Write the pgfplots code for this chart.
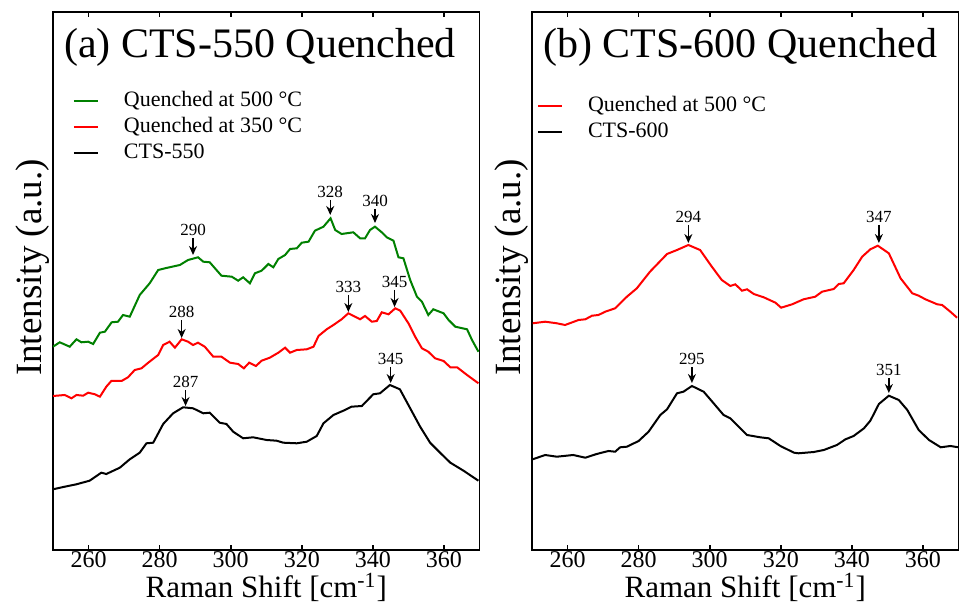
\documentclass[border=0pt]{standalone}
\usepackage{fontspec}
\setmainfont{Liberation Serif}
\usepackage{pgfplots}
\pgfplotsset{compat=1.18}
\usetikzlibrary{arrows.meta}
\definecolor{qgreen}{RGB}{0,128,0}
\definecolor{qred}{RGB}{255,0,0}

\newcommand{\peak}[4]{\draw[-{Stealth[length=4.5pt,width=4pt]}, line width=0.7pt] (axis cs:#1,#2) -- (axis cs:#1,#3) node[pos=0, above, inner sep=1pt, font=\fontsize{8.5}{10}\selectfont] {#4};}

\pgfplotsset{
 ramanbase/.style={
  scale only axis, width=213.25pt, height=269pt,
  xmin=250, xmax=370, ymin=0, ymax=538,
  xtick={260,280,...,360}, ytick=\empty,
  tick align=inside, major tick length=2.6pt,
  xtick pos=both,
  axis line style={line width=0.8pt},
  every tick/.style={line width=0.8pt, black},
  /pgf/number format/assume math mode=true,
  ticklabel style={font=\fontsize{12}{14}\selectfont, inner sep=1.5pt},
  xticklabel style={yshift=1pt},
  xlabel={Raman Shift [cm\textsuperscript{-1}]},
  ylabel={Intensity (a.u.)},
  xlabel style={font=\fontsize{15.5}{18}\selectfont, at={(axis description cs:0.5,-0.0892)}, anchor=base, inner sep=0pt},
  ylabel style={font=\fontsize{18.5}{21}\selectfont, at={(axis description cs:-0.026,0.525)}, anchor=base, inner sep=1pt},
  legend cell align=left,
  legend image code/.code={\draw[#1] (0pt,0pt) -- (12pt,0pt);},
  legend style={draw=none, fill=none, inner sep=0pt, outer sep=0pt,
    font=\fontsize{11}{13}\selectfont,
    nodes={inner sep=0pt, text height=8pt, text depth=2.5pt},
    row sep=2.5pt,
    /tikz/every odd column/.append style={column sep=12.5pt}},
 },
}

\begin{document}
\begin{tikzpicture}
\useasboundingbox (-26.5pt,-27.5pt) rectangle (453.5pt,275pt);
\begin{axis}[ramanbase, at={(0,0)}, anchor=south west,
  legend style={at={(0,1)}, anchor=north west, xshift=10pt, yshift=-39.5pt}]
\addplot[color=qgreen, line width=1pt] coordinates {
(250,203.3)(251.9,207.7)(254.7,203.3)(256.6,210.7)(258,207.7)(259.9,208.3)(261.3,206)(263.2,217.3)(264.6,218.3)(266.5,227.7)(268.3,228.3)(269.7,235)(271.6,233.3)(274.4,255)(277.2,266.7)(279.6,280)(281.5,281.7)(285.7,285)(288,290)(290.8,292.7)(292.3,288.3)(294.1,287.7)(297.4,274.3)(300.3,273.3)(302.1,269.3)(303.5,272.7)(305.4,266.7)(306.8,276.7)(308.7,279.3)(310.6,286)(312,282.7)(313.4,291)(315.3,295)(316.7,301)(318.6,301.7)(320,307.3)(321.9,308.3)(323.7,319.3)(326.1,323.3)(328.1,331.7)(329.4,320)(331.2,316)(334.5,317.7)(336.4,311.7)(337.8,311.7)(339.2,320)(340.6,323.3)(342.5,317.7)(343.9,312.7)(345.8,309.3)(347.2,292.7)(348.6,291.7)(350.5,270)(352.4,253.3)(353.8,248.3)(355.6,235)(357,240.7)(359.9,236.7)(361.3,230)(363.2,223.3)(366.5,220.7)(367.9,210)(369.7,198.3)
};
\addlegendentry{Quenched at 500 °C}
\addplot[color=qred, line width=1pt] coordinates {
(250,154)(253.3,155)(255.2,151.7)(256.6,155)(258.5,154.3)(259.9,157.3)(261.8,155.7)(263.2,153.3)(265,163.3)(266.4,169)(269.3,169)(271.1,172.7)(273,180)(274.9,181.7)(276.8,187.3)(278.6,192.3)(279.6,195)(281,205)(282.8,208.3)(284.3,202.3)(286.2,210.7)(288,208.3)(289.4,205)(290.8,207.3)(292.7,203.3)(295.1,193.3)(297.4,193.3)(299.8,187.3)(302.1,186)(303.7,181.7)(305.2,187.3)(307.1,184)(308.7,189.3)(311,192.3)(313.4,197.3)(315.3,202.3)(316.7,197.3)(318.6,200)(321.4,200.7)(323.3,203.3)(324.7,214)(327,220.7)(328.9,225)(331.2,230.7)(333.1,236.7)(335,233.3)(336.4,230.7)(337.8,234)(339.7,228.3)(341.1,229)(342.5,237.7)(344.4,235.7)(346.3,241.7)(347.7,239.3)(350,226.7)(351.9,213.3)(353.8,201.7)(355.6,198.3)(357.5,191.7)(359.9,189)(361.8,182.7)(363.7,182.7)(366.5,175)(369.7,166.7)
};
\addlegendentry{Quenched at 350 °C}
\addplot[color=black, line width=1pt] coordinates {
(250,60.7)(253.3,63.3)(256.6,65.7)(260.3,69.3)(263.6,77.3)(265,76)(268.8,82.3)(271.6,90.7)(274.4,97.3)(276.3,106.7)(278.2,107.3)(281,126)(283.8,136.7)(286.6,142.7)(289.4,141.7)(292.3,136.7)(294.1,137.3)(296.9,127.3)(298.8,126)(300.7,118.3)(303.5,111.7)(306.3,112.7)(310.1,110)(312.9,109.3)(314.8,107.3)(318.6,106.7)(321.4,108.3)(324.2,114)(326.1,126.7)(328.9,135)(331.7,139.3)(334,143.3)(336.9,144)(340.1,155.7)(342,156.7)(344.8,165)(347.6,160.7)(350.5,141.7)(353.3,123.3)(356.1,107.3)(358.9,97.3)(361.8,87.3)(365.5,79.3)(369.7,69.3)
};
\addlegendentry{CTS-550}
\node[anchor=base west, xshift=2pt, yshift=-23pt, font=\fontsize{21}{24}\selectfont] at (rel axis cs:0,1) {(a) CTS-550 Quenched};
\peak{289.4}{312}{295}{290}
\peak{328}{350}{335}{328}
\peak{340.6}{341}{327}{340}
\peak{286.2}{230}{212}{288}
\peak{333.1}{255}{238}{333}
\peak{346.1}{260}{243}{345}
\peak{287.3}{160}{144}{287}
\peak{345}{183}{167}{345}
\end{axis}

\begin{axis}[ramanbase, at={(239.5pt,0)}, anchor=south west,
  legend style={at={(0,1)}, anchor=north west, xshift=2.5pt, yshift=-42pt}]
\addplot[color=qred, line width=1pt] coordinates {
(250.2,226.7)(253.7,228.3)(257,226.7)(259.3,225)(263.1,230)(265,230.7)(266.9,234.3)(268.7,235)(270.6,238.3)(273.4,241.7)(276.7,253.3)(279.5,261.7)(283.2,278.3)(288,296)(290.8,300)(294,305)(297.3,300)(300.6,283.3)(303.4,270)(305.8,264)(307.2,265.7)(309.1,259.3)(310.5,260.7)(312.4,256)(315.2,252.7)(318.5,247.3)(320.1,242.3)(323.2,245.7)(326.4,250.7)(329.7,253.3)(331.6,258.3)(334.9,261)(336.3,266)(337.7,266.7)(340.5,280)(342.9,293.3)(345.2,300.7)(347.3,304.3)(350.4,296.7)(353.7,271.7)(357,256.7)(358.8,254.3)(360.7,250.7)(364,245.7)(365.4,245)(367.7,238.3)(369.6,232.3)
};
\addlegendentry{Quenched at 500 °C}
\addplot[color=black, line width=1pt] coordinates {
(250.2,90.7)(253.7,95)(257,93.3)(261.6,95)(265,92.3)(268.2,96)(271.5,99)(273.4,98.3)(274.8,102.7)(276.7,103.3)(280,109)(282.8,118.3)(286.1,135)(288,140.7)(290.8,156.7)(292.6,158.3)(295,164)(298.3,158.3)(301.1,146.7)(303.9,135)(305.8,131.7)(310.5,115)(314.2,112.7)(316.6,111.7)(319.9,104)(323.7,97.3)(325,96.7)(329.3,98)(332.1,100)(335.8,105)(338.2,110.7)(340.5,114)(343.4,121.7)(345.2,129.3)(347.6,146)(350.4,154.3)(353.2,150)(355.6,140)(358.8,120)(361.7,110)(365,102.7)(367.7,104)(370,102.7)
};
\addlegendentry{CTS-600}
\node[anchor=base west, xshift=2pt, yshift=-23pt, font=\fontsize{21}{24}\selectfont] at (rel axis cs:0,1) {(b) CTS-600 Quenched};
\peak{294}{325}{307}{294}
\peak{347.6}{325}{307}{347}
\peak{295}{183}{167}{295}
\peak{350.4}{172}{157}{351}
\end{axis}
\end{tikzpicture}
\end{document}
